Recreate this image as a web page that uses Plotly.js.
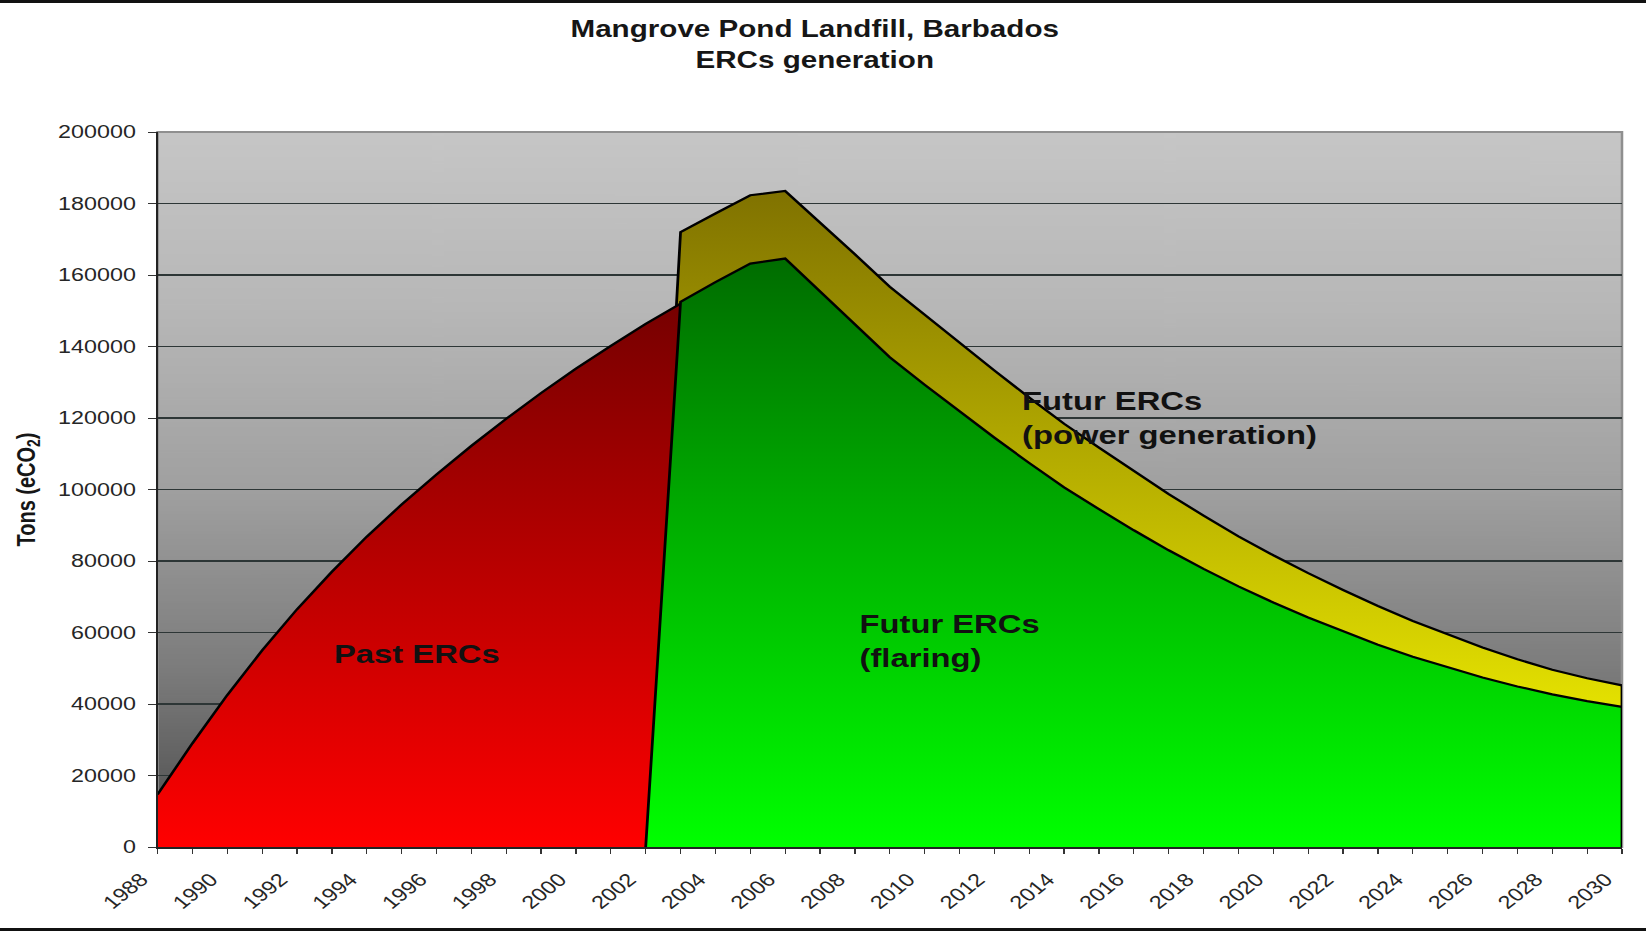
<!DOCTYPE html>
<html><head><meta charset="utf-8">
<script src="https://cdn.plot.ly/plotly-3.0.1.min.js"></script>
<style>
html,body{margin:0;padding:0;background:#fff;overflow:hidden;}
#wrap{position:relative;width:1646px;height:931px;overflow:hidden;background:#fff;}
#chart{position:absolute;left:0;top:0;width:1306px;height:931px;transform:scaleX(1.2603);transform-origin:0 0;}
.rule{position:absolute;left:0;width:1646px;height:3px;background:#111;}
</style></head><body>
<div id="wrap"><div id="chart"></div><div class="rule" style="top:0"></div><div class="rule" style="top:928px"></div></div>
<script>
// ---- data ----
const pastYears = [1988,1989,1990,1991,1992,1993,1994,1995,1996,1997,1998,1999,2000,2001,2002,2003];
const pastERCs  = [14700,29000,42500,55000,66500,77000,86800,95800,104200,112200,119800,127000,133800,140200,146300,152000];

const futurYears = [2002,2003,2004,2005,2006,2007,2008,2009,2010,2011,2012,2013,2014,2015,2016,2017,2018,2019,2020,2021,2022,2023,2024,2025,2026,2027,2028,2029,2030];
const flaring    = [0,152500,158000,163200,164600,155400,146200,137000,129300,121800,114500,107400,100600,94500,88600,83000,77800,72900,68400,64200,60300,56600,53200,50200,47400,44900,42700,40800,39200];
const powerGen   = [0,19500,19200,19100,18900,19300,19600,19700,19500,19200,18800,18300,17800,17200,16500,15700,14900,14000,13200,12400,11600,10800,10000,9200,8400,7600,6900,6400,6000];

const yTicks = [0,20000,40000,60000,80000,100000,120000,140000,160000,180000,200000];

const titleText = 'Mangrove Pond Landfill, Barbados<br>ERCs generation';
const yTitle = 'Tons (eCO<sub>2</sub>)';
const labelPast = 'Past ERCs';
const labelFlaring = 'Futur ERCs<br>(flaring)';
const labelPower = 'Futur ERCs<br>(power generation)';

// ---- build ----
const total = flaring.map((v,i)=>v+powerGen[i]);
const FONT = 'Liberation Sans, Arial, Helvetica, sans-serif';

function bgGradient(){
  const c=document.createElement('canvas'); c.width=8; c.height=512;
  const g=c.getContext('2d'); const gr=g.createLinearGradient(0,0,0,512);
  gr.addColorStop(0,'#c6c6c6'); gr.addColorStop(0.25,'#b7b7b7'); gr.addColorStop(0.5,'#a0a0a0');
  gr.addColorStop(0.75,'#7c7c7c'); gr.addColorStop(1,'#4a4a4a');
  g.fillStyle=gr; g.fillRect(0,0,8,512); return c.toDataURL();
}

function area(x,y,c0,c1,name){
  return {x:x,y:y,type:'scatter',mode:'lines',fill:'tozeroy',name:name,
    line:{color:'#000',width:2.2},
    fillgradient:{type:'vertical',colorscale:[[0,c0],[1,c1]],start:0,stop:Math.max(...y)},
    hoverinfo:'skip',showlegend:false};
}

const traces = [
  area(futurYears,total,'#ffff00','#807200','Futur ERCs (power generation)'),
  area(pastYears,pastERCs,'#ff0000','#760000','Past ERCs'),
  area(futurYears,flaring,'#00ff00','#006c00','Futur ERCs (flaring)')
];

const lastI = futurYears.length-1;
const tickFont = {family:FONT,size:18.5,color:'#262626'};

const layout = {
  width:1306,height:931,
  margin:{l:125,r:19,t:132,b:84},
  paper_bgcolor:'#ffffff',plot_bgcolor:'rgba(0,0,0,0)',
  showlegend:false,
  title:{text:titleText,font:{family:FONT,size:23.5,color:'#161616',weight:'bold'},
         xref:'container',x:0.495,xanchor:'center',yref:'container',y:1-37.5/931,yanchor:'top'},
  xaxis:{range:[pastYears[0],futurYears[lastI]],tickmode:'linear',tick0:pastYears[0],dtick:2,
    ticks:'outside',ticklen:5,tickwidth:1,tickcolor:'#333',tickangle:-45,tickfont:tickFont,
    ticklabelshift:-13,ticklabelstandoff:8,
    showgrid:false,zeroline:false,showline:true,linecolor:'#222',linewidth:1.5,fixedrange:true,
    minor:{tick0:pastYears[0],dtick:1,ticks:'outside',ticklen:5,tickwidth:1,tickcolor:'#333',showgrid:false}},
  yaxis:{range:[0,200000],tickmode:'array',tickvals:yTicks,ticktext:yTicks.map(String),
    ticks:'outside',ticklen:6,tickwidth:1,tickcolor:'#333',tickfont:tickFont,ticklabelstandoff:6,
    showgrid:true,gridcolor:'#2d3636',gridwidth:1.2,zeroline:false,showline:true,linecolor:'#222',linewidth:1.5,fixedrange:true,
    title:{text:yTitle,font:{family:FONT,size:20,color:'#161616',weight:'bold'},standoff:12}},
  images:[{source:bgGradient(),xref:'paper',yref:'paper',x:0,y:1,sizex:1,sizey:1,sizing:'stretch',
    xanchor:'left',yanchor:'top',layer:'below'}],
  shapes:[
    {type:'rect',xref:'paper',yref:'paper',x0:0,x1:1,y0:0,y1:1,line:{color:'#8f8f8f',width:2},layer:'below'},
    {type:'line',xref:'x',yref:'y',x0:futurYears[lastI],x1:futurYears[lastI],y0:0,y1:total[lastI],line:{color:'#000',width:2.2}}
  ],
  annotations:[
    {text:labelPast,x:1995.46,y:54000,xref:'x',yref:'y',showarrow:false,xanchor:'center',yanchor:'middle',
     font:{family:FONT,size:26,color:'#111',weight:'bold'}},
    {text:labelFlaring,x:2008.06,y:57500,xref:'x',yref:'y',showarrow:false,xanchor:'left',yanchor:'middle',align:'left',
     font:{family:FONT,size:26,color:'#111',weight:'bold'}},
    {text:labelPower,x:2012.73,y:120100,xref:'x',yref:'y',showarrow:false,xanchor:'left',yanchor:'middle',align:'left',
     font:{family:FONT,size:26,color:'#111',weight:'bold'}}
  ]
};

Plotly.newPlot('chart',traces,layout,{displayModeBar:false,staticPlot:true});
</script>
</body></html>
